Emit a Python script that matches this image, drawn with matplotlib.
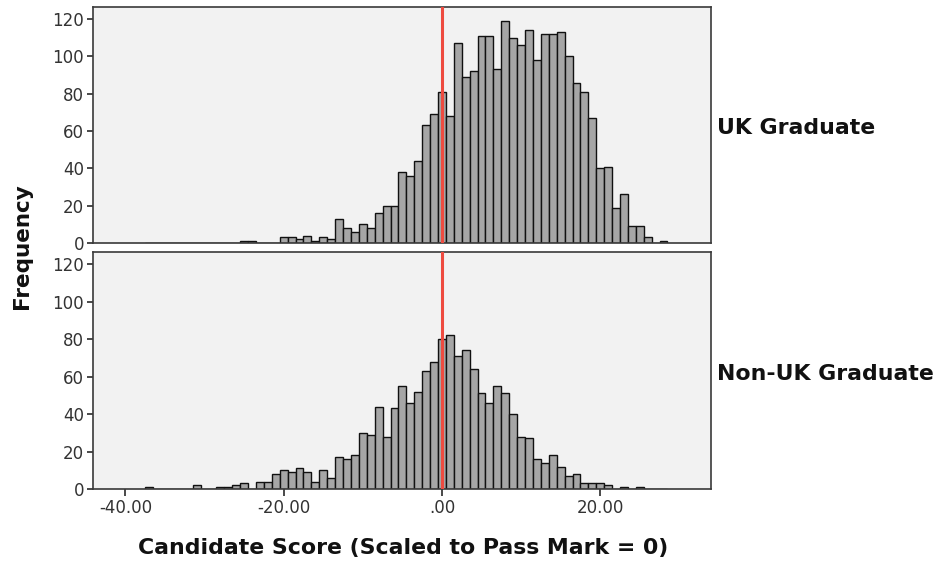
import numpy as np
import matplotlib
matplotlib.use("Agg")
import matplotlib.pyplot as plt

# score bins (centres, width 1) from -37 to 28
scores = np.arange(-37, 29)

# UK graduates, counts per bin
uk_counts = [0, 0, 0, 0, 0, 0, 0, 0, 0, 0, 0, 0,      # -37 .. -26
             1, 1, 0, 0, 0,                             # -25 .. -21
             3, 3, 2, 4, 1, 3, 2, 13, 8, 6,             # -20 .. -11
             10, 8, 16, 20, 20, 38, 36, 44, 63, 69,     # -10 .. -1
             81, 68, 107, 89, 92, 111, 111, 93, 119, 110,  # 0 .. 9
             106, 114, 98, 112, 112, 113, 100, 86, 81, 67,  # 10 .. 19
             40, 41, 19, 26, 9, 9, 3, 0, 1]             # 20 .. 28

# non-UK graduates, counts per bin
nonuk_counts = [1, 0, 0, 0, 0, 0, 2, 0, 0, 1, 1, 2,   # -37 .. -26
                3, 0, 4, 4, 8,                          # -25 .. -21
                10, 9, 11, 9, 4, 10, 6, 17, 16, 18,     # -20 .. -11
                30, 29, 44, 28, 43, 55, 46, 52, 63, 68,  # -10 .. -1
                80, 82, 71, 74, 64, 51, 46, 55, 51, 40,  # 0 .. 9
                28, 27, 16, 14, 18, 12, 7, 8, 3, 3,      # 10 .. 19
                3, 2, 0, 1, 0, 1, 0, 0, 0]               # 20 .. 28

panel_labels = ["UK Graduate", "Non-UK Graduate"]
xticks = [-40, -20, 0, 20]
xtick_labels = ["-40.00", "-20.00", ".00", "20.00"]
yticks = [0, 20, 40, 60, 80, 100, 120]

W, H = 941, 565
fig = plt.figure(figsize=(W / 100, H / 100), dpi=100)

left, right = 93 / W, 711 / W
ax_top = fig.add_axes([left, 1 - 243 / H, right - left, 236 / H])
ax_bot = fig.add_axes([left, 1 - 489 / H, right - left, 237 / H])

frame_col = "#3a3a3a"
for ax, counts, lab, ymid in [(ax_top, uk_counts, panel_labels[0], 128),
                              (ax_bot, nonuk_counts, panel_labels[1], 374)]:
    ax.set_facecolor("#f2f2f2")
    ax.bar(scores, counts, width=1.0, color="#a6a6a6", edgecolor="#111111",
           linewidth=1.0, zorder=2)
    ax.axvline(0, color="#ee4b40", linewidth=2.2, zorder=3)
    ax.set_xlim(-44.1, 34.0)
    ax.set_ylim(0, 126.5)
    ax.set_yticks(yticks)
    ax.tick_params(axis="y", direction="out", length=4.5, width=1.3,
                   color=frame_col, labelsize=12, labelcolor="#333333", pad=2)
    for s in ax.spines.values():
        s.set_color(frame_col)
        s.set_linewidth(1.2)
    fig.text(717 / W, 1 - ymid / H, lab, fontsize=15.8, fontweight="bold",
             va="center", ha="left", color="#111111")

ax_top.set_xticks([])
ax_bot.set_xticks(xticks)
ax_bot.set_xticklabels(xtick_labels)
ax_bot.tick_params(axis="x", direction="out", length=5, width=1.3,
                   color=frame_col, labelsize=12, labelcolor="#333333", pad=2)

fig.text(22 / W, 1 - 246 / H, "Frequency", rotation=90, fontsize=15.5,
         fontweight="bold", va="center", ha="center", color="#111111")
fig.text(403 / W, 1 - 548 / H, "Candidate Score (Scaled to Pass Mark = 0)",
         fontsize=15.8, fontweight="bold", va="center", ha="center", color="#111111")

fig.savefig("out.png", dpi=100, facecolor="white")
